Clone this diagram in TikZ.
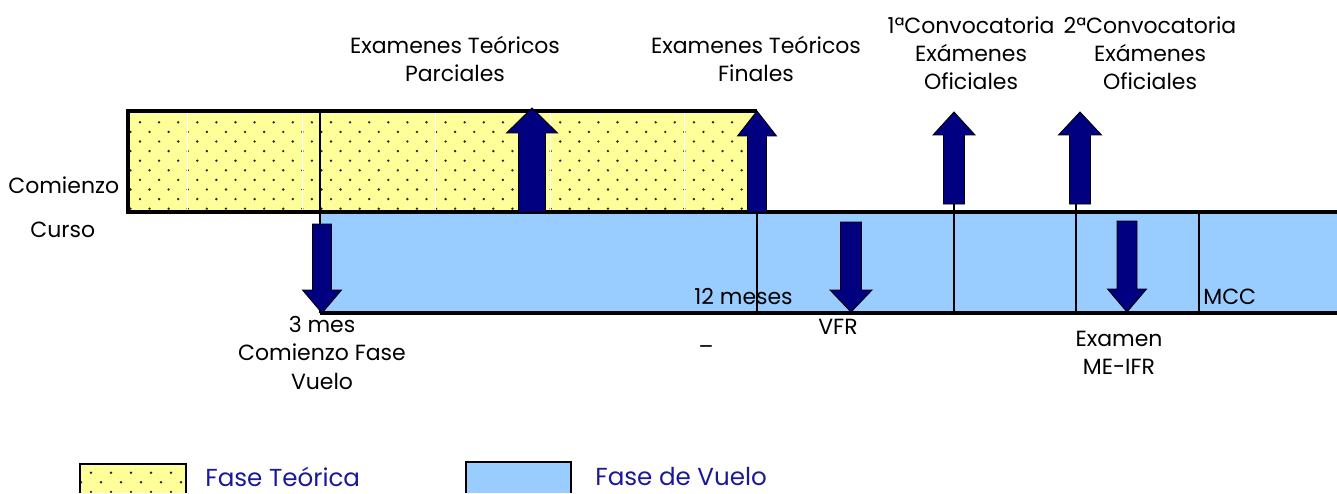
\documentclass[tikz,border=0pt]{standalone}
\usepackage{fontspec}
\setmainfont{Poppins}
\usepackage{tikz}

\definecolor{teoyellow}{HTML}{FFFF99}
\definecolor{vueloblue}{HTML}{99CCFF}
\definecolor{arrownavy}{HTML}{000080}
\definecolor{legendtext}{HTML}{1A1A99}
\definecolor{dotgrey}{HTML}{262626}

% block arrow: x, half shaft, half head, start y, head base y, tip y
\newcommand{\blockarrow}[6]{%
  \filldraw[arrowbox] (#1-#2,#4) -- (#1-#2,#5) -- (#1-#3,#5) -- (#1,#6)
    -- (#1+#3,#5) -- (#1+#2,#5) -- (#1+#2,#4) -- cycle;}

\begin{document}
\begin{tikzpicture}[x=0.02cm,y=-0.02cm,
   lbl/.style={inner sep=0pt, align=center, font=\fontsize{12.5}{16}\selectfont},
   leglbl/.style={inner sep=0pt, anchor=west, text=legendtext, font=\fontsize{14}{17}\selectfont},
   arrowbox/.style={fill=arrownavy, draw=black, line width=0.5pt},
   border/.style={draw=black, line width=1.8pt},
   divider/.style={draw=black, line width=1.2pt},
   thindiv/.style={draw=black, line width=0.7pt}]

   \useasboundingbox (0,0) rectangle (1337,493);

   % fase teorica
   \fill[teoyellow] (128,111) rectangle (757,212);
   \begin{scope}
   \clip (128,111) rectangle (757,212);
   \foreach \r in {0,...,9}
      \foreach \c in {0,...,34}
         \fill[dotgrey] ({120.9+19.1*\c+9.55*mod(\r,2)},{122.3+9.6*\r}) circle (0.75pt);
   \foreach \wx in {187,302,435,550,684}
      \draw[white, line width=0.5pt] (\wx,111) -- (\wx,212);
   \end{scope}

   % fase de vuelo
   \fill[vueloblue] (320,212) rectangle (1337,313);

   \coordinate (yTL) at (128,111);
   \coordinate (yTR) at (757,111);
   \coordinate (yBL) at (128,212);
   \coordinate (bTR) at (1337,212);
   \coordinate (bBL) at (320,313);
   \coordinate (bBR) at (1337,313);
   \draw[border] (yTR) -- (yTL) -- (yBL) -- (bTR);
   \draw[border] (bBL) -- (bBR);
   \draw[thindiv] (320,111) -- (bBL);
   \draw[thindiv] (757,212) -- (757,313);
   \draw[divider] (954,204) -- (954,313);
   \draw[divider] (1076,204) -- (1076,313);
   \draw[divider] (1199,212) -- (1199,313);

   % flechas
   \blockarrow{532}{13.5}{25.5}{212}{133}{108}
   \blockarrow{757}{9.5}{19.5}{212}{136}{111}
   \blockarrow{954}{10.5}{21}{204}{135}{112}
   \blockarrow{1080}{10.5}{21.5}{204}{135}{112}
   \blockarrow{322}{9.5}{19.5}{224}{290}{313}
   \blockarrow{851}{10.5}{21}{222}{290}{312}
   \blockarrow{1127}{10}{19.5}{221}{289}{312}

   % textos
   \node[lbl] (parciales) at (455,59) {Examenes Teóricos\\Parciales};
   \node[lbl] (finales) at (756,59) {Examenes Teóricos\\Finales};
   \node[lbl] (conv1) at (971,53) {1ªConvocatoria\\Exámenes\\Oficiales};
   \node[lbl] (conv2) at (1150,53) {2ªConvocatoria\\Exámenes\\Oficiales};
   \node[lbl, anchor=west] (comienzo) at (8,185) {Comienzo};
   \node[lbl, anchor=west] (curso) at (30,230) {Curso};
   \node[lbl] (tresmes) at (322,353) {3 mes\\Comienzo Fase\\Vuelo};
   \node[lbl, anchor=west] (doce) at (694,297) {12 meses};
   \node[lbl] (vfr) at (838,327) {VFR};
   \node[lbl] (guion) at (706,350) {–};
   \node[lbl] (meifr) at (1119,353) {Examen\\ME-IFR};
   \node[lbl, anchor=west] (mcc) at (1203,297) {MCC};

   % leyenda
   \fill[teoyellow] (80,464) rectangle (186,493);
   \begin{scope}
   \clip (80,464) rectangle (186,493);
   \foreach \r in {0,...,3}
      \foreach \c in {0,...,6}
         \fill[dotgrey] ({91+20*\c-10*mod(\r,2)},{472.7+9.6*\r}) circle (0.75pt);
   \end{scope}
   \draw[black, line width=1pt] (80,493) -- (80,464) -- (186,464) -- (186,493);
   \filldraw[fill=vueloblue, draw=black, line width=0.8pt] (466,493) -- (466,462) -- (571,462) -- (571,493);
   \node[leglbl] (legteo) at (205,477) {Fase Teórica};
   \node[leglbl] (legvuelo) at (595,477) {Fase de Vuelo};

\end{tikzpicture}
\end{document}
